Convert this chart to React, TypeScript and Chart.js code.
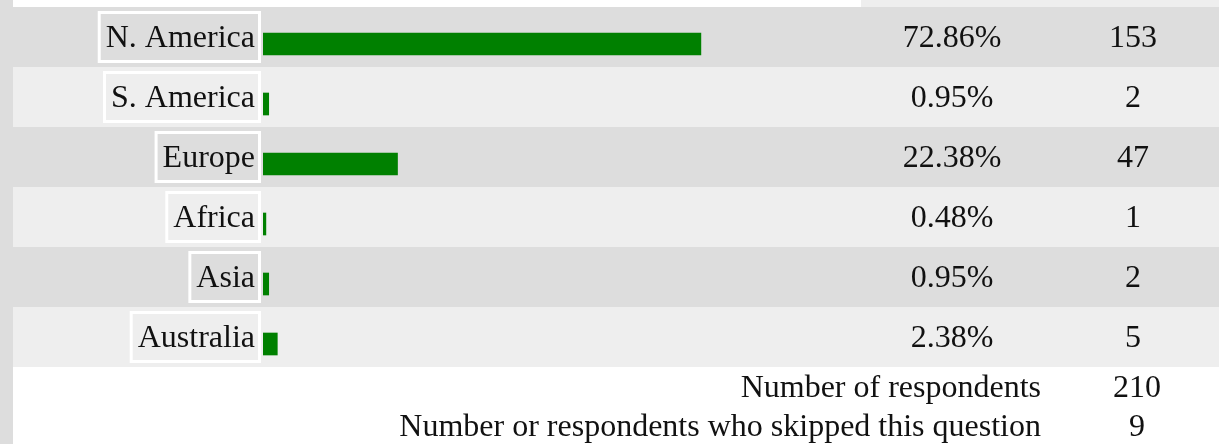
import { useEffect, useRef } from "react";
import { Chart, registerables } from "chart.js";

Chart.register(...registerables);

const categories = ["N. America", "S. America", "Europe", "Africa", "Asia", "Australia"];
const percents = [72.86, 0.95, 22.38, 0.48, 0.95, 2.38];
const counts = [153, 2, 47, 1, 2, 5];
const summaryLabels = ["Number of respondents", "Number or respondents who skipped this question"];
const summaryValues = [210, 9];

const W = 1219;
const H = 444;
const ROW_FONT = '32px "Liberation Serif"';
const FOOT_FONT = '32px "Liberation Serif"';

export default function App() {
  const ref = useRef<HTMLCanvasElement>(null);

  useEffect(() => {
    const canvas = ref.current!;
    const tablePlugin = {
      id: "surveyTable",
      beforeDraw(c: any) {
        const { ctx } = c;
        const y = c.scales.y;
        ctx.save();
        ctx.fillStyle = "#ffffff";
        ctx.fillRect(0, 0, W, H);
        ctx.fillStyle = "#dddddd";
        ctx.fillRect(0, 0, 13, H);
        ctx.fillStyle = "#eeeeee";
        ctx.fillRect(861, 0, W - 861, 7);
        categories.forEach((_, i) => {
          const cy = y.getPixelForValue(i);
          const top = cy - 37;
          ctx.fillStyle = i % 2 === 0 ? "#dddddd" : "#eeeeee";
          ctx.fillRect(13, top, W - 13, 60);
        });
        ctx.restore();
      },
      afterDraw(c: any) {
        const { ctx } = c;
        const y = c.scales.y;
        ctx.save();
        ctx.font = ROW_FONT;
        ctx.textBaseline = "alphabetic";
        categories.forEach((label, i) => {
          const cy = y.getPixelForValue(i);
          const top = cy - 37;
          const base = top + 40;
          const rowColor = i % 2 === 0 ? "#dddddd" : "#eeeeee";
          const w = ctx.measureText(label).width;
          const x0 = 255 - w - 8;
          ctx.fillStyle = "#ffffff";
          ctx.fillRect(x0, top + 4, 261 - x0, 52);
          ctx.fillStyle = rowColor;
          ctx.fillRect(x0 + 3, top + 7, 261 - x0 - 6, 46);
          ctx.fillStyle = "#111111";
          ctx.textAlign = "right";
          ctx.fillText(label, 255, base);
          ctx.textAlign = "center";
          ctx.fillText(percents[i].toFixed(2) + "%", 952, base);
          ctx.fillText(String(counts[i]), 1133, base);
        });
        ctx.font = FOOT_FONT;
        const baselines = [397, 436];
        summaryLabels.forEach((label, i) => {
          ctx.fillStyle = "#111111";
          ctx.textAlign = "right";
          ctx.fillText(label, 1041, baselines[i]);
          ctx.textAlign = "center";
          ctx.fillText(String(summaryValues[i]), 1137, baselines[i]);
        });
        ctx.restore();
      },
    };

    const chart = new Chart(canvas, {
      type: "bar",
      data: {
        labels: categories,
        datasets: [
          {
            data: percents,
            backgroundColor: "#008000",
            borderWidth: 0,
            barThickness: 22,
          },
        ],
      },
      options: {
        indexAxis: "y",
        animation: false,
        responsive: false,
        devicePixelRatio: 1,
        layout: { padding: { left: 263, right: W - 864, top: 14, bottom: H - 374 } },
        plugins: { legend: { display: false }, tooltip: { enabled: false } },
        scales: {
          x: { min: 0, max: 100, display: false },
          y: { display: false, offset: true },
        },
      },
      plugins: [tablePlugin],
    });
    return () => chart.destroy();
  }, []);

  return (
    <canvas
      ref={ref}
      width={W}
      height={H}
      style={{ position: "fixed", left: 0, top: 0, width: W, height: H }}
    />
  );
}
